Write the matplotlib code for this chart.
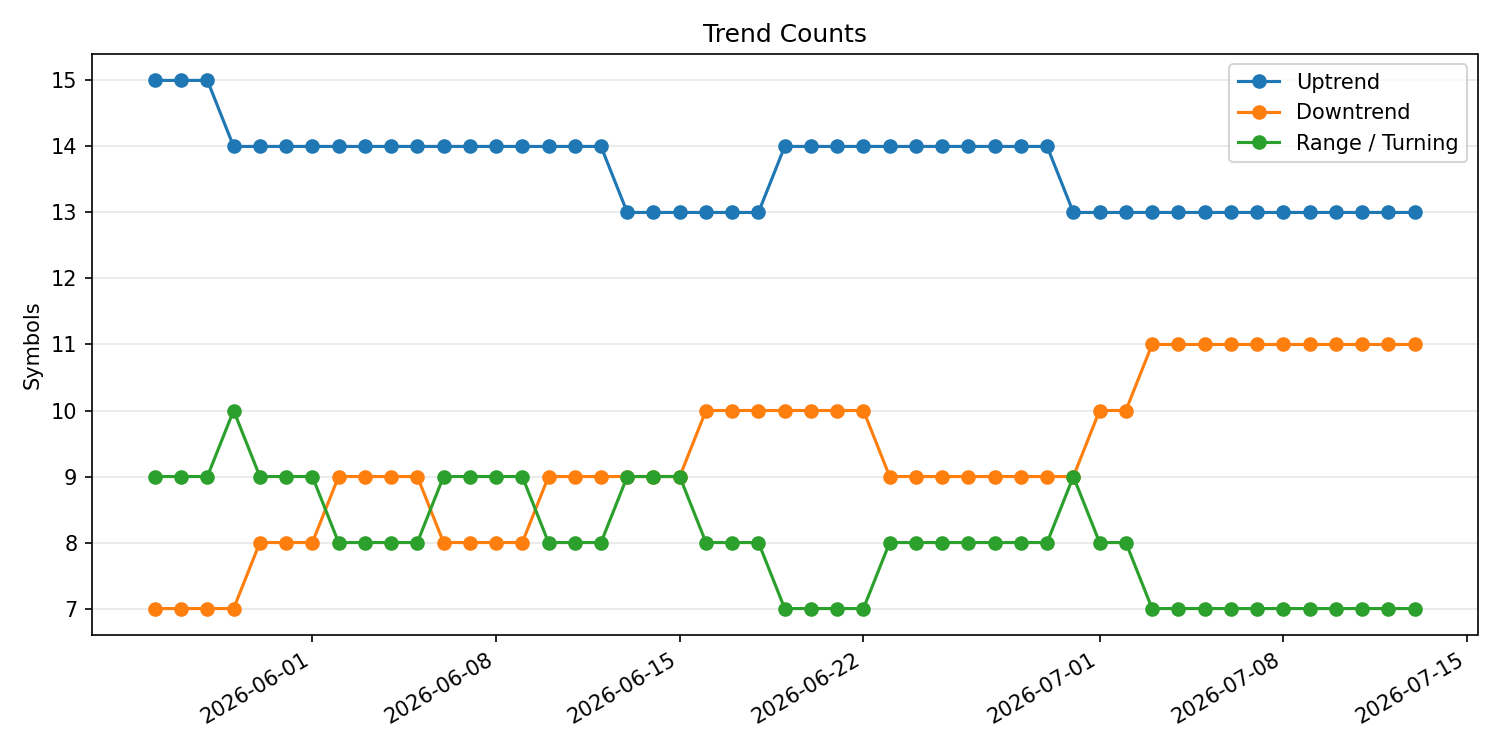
import numpy as np
import pandas as pd
import matplotlib
matplotlib.use("Agg")
import matplotlib.pyplot as plt

# daily counts, 2026-05-26 .. 2026-07-13
dates = pd.date_range("2026-05-26", "2026-07-13", freq="D")

uptrend = [15] * 3 + [14] * 15 + [13] * 6 + [14] * 11 + [13] * 14
downtrend = [7] * 4 + [8] * 3 + [9] * 4 + [8] * 4 + [9] * 6 + [10] * 7 + [9] * 8 + [10] * 2 + [11] * 11
range_turning = [9] * 3 + [10] + [9] * 3 + [8] * 4 + [9] * 4 + [8] * 3 + [9] * 3 + [8] * 3 + [7] * 4 + [8] * 7 + [9] + [8] * 2 + [7] * 11

fig, ax = plt.subplots(figsize=(10, 5), dpi=150)
ax.plot(dates, uptrend, marker="o", label="Uptrend")
ax.plot(dates, downtrend, marker="o", label="Downtrend")
ax.plot(dates, range_turning, marker="o", label="Range / Turning")

ax.set_title("Trend Counts")
ax.set_ylabel("Symbols")
ax.grid(axis="y", alpha=0.3)
ax.legend()
fig.autofmt_xdate()
fig.tight_layout()
fig.savefig("out.png")
